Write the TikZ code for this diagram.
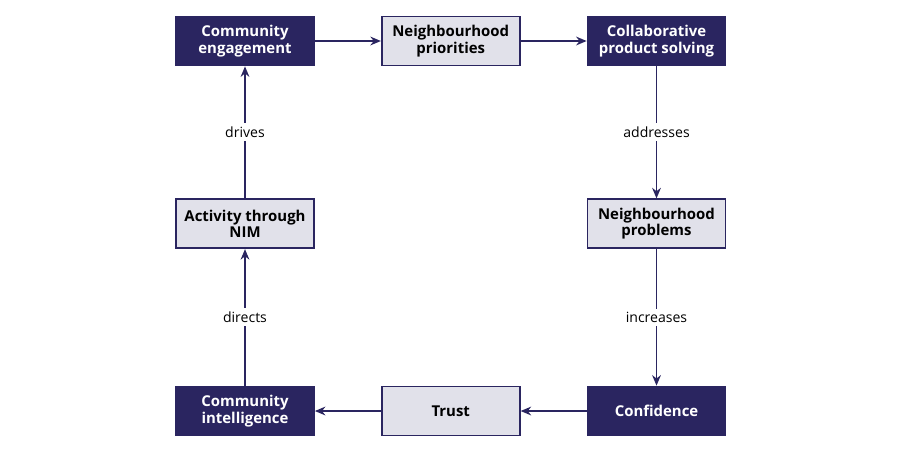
\documentclass[tikz,border=0pt]{standalone}
\usepackage{fontspec}
\setmainfont{Open Sans}
\usepackage{xcolor}
\usetikzlibrary{positioning, arrows.meta}

\definecolor{navy}{HTML}{2A2560}
\definecolor{paleblue}{HTML}{E1E1EA}

\tikzset{
    darkbox/.style={draw=navy, fill=navy, text=white, line width=1pt,
        minimum width=2.76cm, minimum height=0.98cm, align=center,
        font=\fontsize{8.5}{9.5}\selectfont\bfseries},
    lightbox/.style={darkbox, fill=paleblue, text=black},
    flow/.style={->, draw=navy, line width=0.8pt},
    verb/.style={fill=white, inner sep=2pt, font=\fontsize{8}{9}\selectfont}
}

\begin{document}
\begin{tikzpicture}[>={Stealth[length=6pt, width=5pt]}]

    % =================================================================
    % 0. KHUNG
    % =================================================================
    \useasboundingbox (0,0) rectangle (18,-9.2);

    % =================================================================
    % 1. CAC HOP
    % =================================================================
    % Hang tren
    \node[darkbox] (engage) at (4.9,-0.82) {Community\\engagement};
    \node[lightbox, right=1.32cm of engage] (priorities) {Neighbourhood\\priorities};
    \node[darkbox, right=1.32cm of priorities] (solving) {Collaborative\\product solving};

    % Hang giua
    \node[lightbox, below=2.64cm of engage] (activity) {Activity through\\NIM};
    \node[lightbox, below=2.64cm of solving] (problems) {Neighbourhood\\problems};

    % Hang duoi
    \node[darkbox, below=2.73cm of activity] (intel) {Community\\intelligence};
    \node[lightbox, right=1.32cm of intel] (trust) {Trust};
    \node[darkbox, right=1.32cm of trust] (confid) {Confidence};

    % =================================================================
    % 2. CAC MUI TEN
    % =================================================================
    \draw[flow] (engage) -- (priorities);
    \draw[flow] (priorities) -- (solving);
    \draw[flow] (solving) -- node[verb] {addresses} (problems);
    \draw[flow] (problems) -- node[verb] {increases} (confid);
    \draw[flow] (confid) -- (trust);
    \draw[flow] (trust) -- (intel);
    \draw[flow] (intel) -- node[verb] {directs} (activity);
    \draw[flow] (activity) -- node[verb] {drives} (engage);

\end{tikzpicture}
\end{document}
